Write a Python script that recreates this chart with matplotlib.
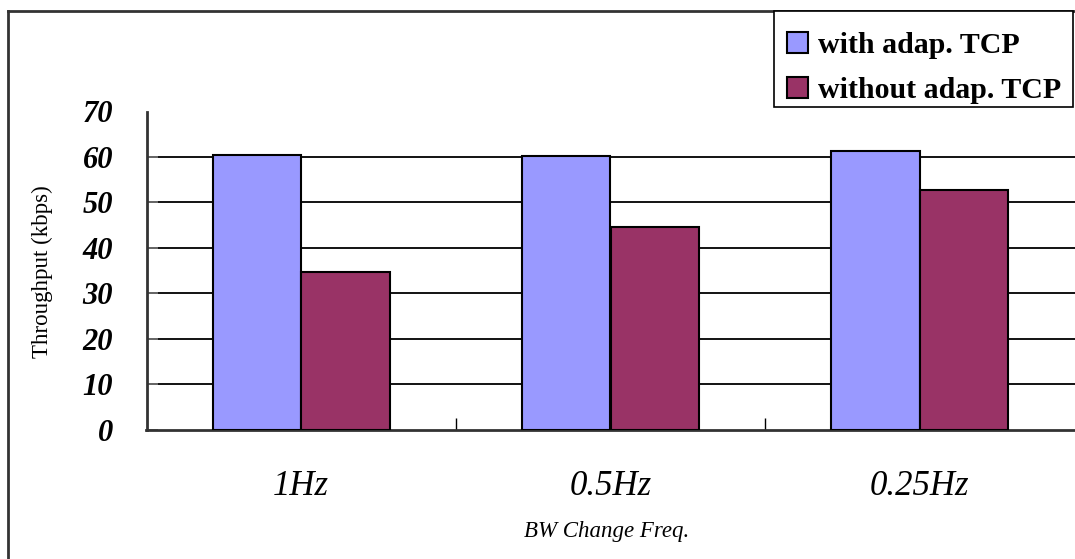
import numpy as np
import matplotlib
matplotlib.use("Agg")
import matplotlib.pyplot as plt
from matplotlib.lines import Line2D
from matplotlib.patches import Rectangle

categories = ["1Hz", "0.5Hz", "0.25Hz"]
with_adap = [60.4, 60.3, 61.3]
without_adap = [34.6, 44.7, 52.7]
series_labels = ["with adap. TCP", "without adap. TCP"]
y_ticks = [0, 10, 20, 30, 40, 50, 60, 70]

W, H = 1075, 559
fig = plt.figure(figsize=(W / 100, H / 100), dpi=100)
serif = "Liberation Serif"

def px(x0, y0, x1, y1):
    return [x0 / W, 1 - y1 / H, (x1 - x0) / W, (y1 - y0) / H]

ax = fig.add_axes(px(146.5, 111.5, 1074.5, 429.7))

x = np.arange(len(categories))
bw = 2 / 7
ax.bar(x - bw / 2, with_adap, bw, color="#9999FF", edgecolor="black",
       linewidth=1.5, label=series_labels[0], zorder=3)
ax.bar(x + bw / 2, without_adap, bw, color="#993366", edgecolor="black",
       linewidth=1.5, label=series_labels[1], zorder=3)

ax.set_xlim(-0.5, len(categories) - 0.5)
ax.set_ylim(0, 70)

# y axis
ax.set_yticks(y_ticks)
ax.set_yticklabels([str(v) for v in y_ticks], fontfamily=serif,
                   fontweight="bold", fontstyle="italic", fontsize=22)
ax.tick_params(axis="y", direction="in", length=8, width=1.2,
               color="#777777", pad=24)
ax.yaxis.get_major_ticks()[-1].tick1line.set_visible(False)
for v in y_ticks[1:-1]:
    ax.axhline(v, color="black", linewidth=1.3, zorder=1)

# x axis: labels at category centres, ticks on category boundaries
ax.set_xticks(x)
ax.set_xticklabels(categories, fontfamily=serif, fontstyle="italic",
                   fontsize=25)
ax.tick_params(axis="x", which="major", length=0, pad=29)
ax.set_xticks([0.5, 1.5], minor=True)
ax.tick_params(axis="x", which="minor", direction="in", length=9,
               width=1.0, color="black")

for side in ("top", "right"):
    ax.spines[side].set_visible(False)
for side in ("left", "bottom"):
    ax.spines[side].set_linewidth(2)
    ax.spines[side].set_color("#333333")

fig.text(607 / W, 1 - 531 / H, "BW Change Freq.", fontfamily=serif,
         fontstyle="italic", fontsize=16.5, ha="center", va="center")
fig.text(42 / W, 1 - 272 / H, "Throughput (kbps)", fontfamily=serif,
         fontsize=16.5, rotation=90, ha="center", va="center")

# chart border
fig.add_artist(Line2D([8 / W, 8 / W], [0, 1 - 11 / H], color="#333333",
                      linewidth=2, transform=fig.transFigure))
fig.add_artist(Line2D([8 / W, 1], [1 - 11 / H, 1 - 11 / H], color="#333333",
                      linewidth=2, transform=fig.transFigure))

# legend box and entries
fig.add_artist(Rectangle((774 / W, 1 - 107 / H), (1073 - 774) / W,
                         (107 - 11) / H, transform=fig.transFigure,
                         facecolor="white", edgecolor="black",
                         linewidth=1.2, zorder=4))
leg = fig.legend(loc="upper left", bbox_to_anchor=(772 / W, 1 - 17 / H),
                 borderaxespad=0, frameon=False,
                 prop={"family": serif, "weight": "bold", "size": 21.5},
                 handlelength=0.7, handleheight=0.7, handletextpad=0.35,
                 labelspacing=0.6, borderpad=0.5)
leg.set_zorder(5)

fig.savefig("out.png", dpi=100)
